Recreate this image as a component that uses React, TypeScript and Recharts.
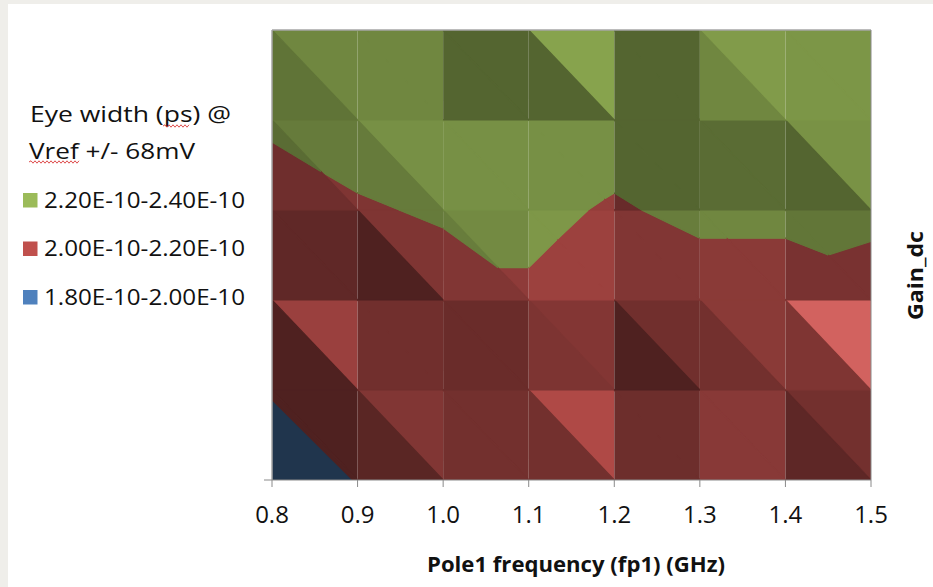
import React from 'react';
import { ComposedChart, Area, XAxis, YAxis, ReferenceLine } from 'recharts';

// Pole1 frequency (fp1) in GHz – x grid of the surface
const POLE1_FREQ_GHZ = [0.8, 0.9, 1.0, 1.1, 1.2, 1.3, 1.4, 1.5];
// Gain_dc levels (row index of the surface, bottom -> top; labels are not shown in the source)
const GAIN_DC_LEVELS = [0, 1, 2, 3, 4, 5];

// Eye width (x 1e-10 s) @ Vref +/- 68mV, one row per Gain_dc level (bottom -> top)
const EYE_WIDTH_G0 = [1.9, 2.006, 2.05, 2.07, 2.1, 2.06, 2.09, 2.08];
const EYE_WIDTH_G1 = [2.012, 2.08, 2.1, 2.12, 2.09, 2.11, 2.12, 2.15];
const EYE_WIDTH_G2 = [2.1, 2.08, 2.136, 2.191, 2.1675, 2.167, 2.167, 2.185];
const EYE_WIDTH_G3 = [2.138, 2.185, 2.216, 2.216, 2.193, 2.215, 2.215, 2.208];
const EYE_WIDTH_G4 = [2.22, 2.264, 2.26, 2.251, 2.23, 2.25, 2.24, 2.25];
const EYE_WIDTH_G5 = [2.3, 2.3, 2.28, 2.32, 2.28, 2.31, 2.3, 2.29];

// Contour bands
const BAND_LOWER = [1.8, 2.0, 2.2];
const BAND_UPPER = [2.0, 2.2, 2.4];
const BAND_LABELS = ['1.80E-10-2.00E-10', '2.00E-10-2.20E-10', '2.20E-10-2.40E-10'];
const BAND_COLORS = ['#4F81BD', '#C0504D', '#9BBB59'];

// Surface facet lighting (style): per cell [upper-right triangle, lower-left triangle], rows bottom -> top
const FACET_SHADE = [
  [[0.41, 0.41], [0.67, 0.47], [0.6, 0.6], [0.91, 0.6], [0.57, 0.57], [0.71, 0.71], [0.6, 0.49]],
  [[0.8, 0.41], [0.59, 0.59], [0.55, 0.55], [0.68, 0.65], [0.59, 0.41], [0.72, 0.6], [1.12, 0.66]],
  [[0.5, 0.5], [0.66, 0.41], [0.74, 0.67], [0.81, 0.81], [0.67, 0.67], [0.72, 0.72], [0.63, 0.63]],
  [[0.66, 0.58], [0.77, 0.66], [0.77, 0.77], [0.77, 0.77], [0.54, 0.54], [0.58, 0.58], [0.78, 0.54]],
  [[0.72, 0.62], [0.72, 0.72], [0.54, 0.54], [0.87, 0.54], [0.54, 0.54], [0.83, 0.72], [0.8, 0.8]],
];

const EYE_WIDTH_ROWS = [EYE_WIDTH_G0, EYE_WIDTH_G1, EYE_WIDTH_G2, EYE_WIDTH_G3, EYE_WIDTH_G4, EYE_WIDTH_G5];

type P = { x: number; y: number; z: number };

function shadeColor(hex: string, f: number): string {
  const n = parseInt(hex.slice(1), 16);
  const ch = [(n >> 16) & 255, (n >> 8) & 255, n & 255].map((c) =>
    Math.max(0, Math.min(255, Math.round(f > 1 ? c + (f - 1) * 150 : c * f)))
  );
  return '#' + ch.map((c) => c.toString(16).padStart(2, '0')).join('');
}

function clip(poly: P[], level: number, keepAbove: boolean): P[] {
  const out: P[] = [];
  for (let i = 0; i < poly.length; i++) {
    const a = poly[i];
    const b = poly[(i + 1) % poly.length];
    const ina = keepAbove ? a.z >= level : a.z <= level;
    const inb = keepAbove ? b.z >= level : b.z <= level;
    if (ina) out.push(a);
    if (ina !== inb) {
      const t = (level - a.z) / (b.z - a.z);
      out.push({ x: a.x + t * (b.x - a.x), y: a.y + t * (b.y - a.y), z: level });
    }
  }
  return out;
}

function toRange(poly: P[]) {
  const xs: number[] = [];
  poly.forEach((p) => {
    if (!xs.some((v) => Math.abs(v - p.x) < 1e-9)) xs.push(p.x);
  });
  xs.sort((a, b) => a - b);
  return xs.map((x) => {
    const ys: number[] = [];
    for (let i = 0; i < poly.length; i++) {
      const a = poly[i];
      const b = poly[(i + 1) % poly.length];
      if (Math.abs(a.x - b.x) < 1e-12) {
        if (Math.abs(a.x - x) < 1e-9) ys.push(a.y, b.y);
      } else if ((x - a.x) * (x - b.x) <= 1e-12) {
        ys.push(a.y + ((x - a.x) / (b.x - a.x)) * (b.y - a.y));
      }
    }
    return { x, r: [Math.min(...ys), Math.max(...ys)] };
  });
}

type Piece = { key: string; color: string; data: { x: number; r: number[] }[] };

function buildPieces(): Piece[] {
  const pieces: Piece[] = [];
  for (let r = 0; r < GAIN_DC_LEVELS.length - 1; r++) {
    for (let c = 0; c < POLE1_FREQ_GHZ.length - 1; c++) {
      const node = (i: number, j: number): P => ({ x: POLE1_FREQ_GHZ[i], y: GAIN_DC_LEVELS[j], z: EYE_WIDTH_ROWS[j][i] });
      const tris: P[][] = [
        [node(c, r + 1), node(c + 1, r + 1), node(c + 1, r)],
        [node(c, r + 1), node(c, r), node(c + 1, r)],
      ];
      tris.forEach((tri, ti) => {
        BAND_LOWER.forEach((lo, b) => {
          let poly = clip(tri, lo, true);
          if (poly.length >= 3) poly = clip(poly, BAND_UPPER[b], false);
          if (poly.length < 3) return;
          const minX = Math.min(...poly.map((p) => p.x));
          const maxX = Math.max(...poly.map((p) => p.x));
          if (maxX - minX < 1e-9) return;
          pieces.push({
            key: `${r}-${c}-${ti}-${b}`,
            color: shadeColor(BAND_COLORS[b], FACET_SHADE[r][c][ti]),
            data: toRange(poly),
          });
        });
      });
    }
  }
  return pieces;
}

const PIECES = buildPieces();
const FONT = "'Open Sans', 'Liberation Sans', sans-serif";

function Wavy({ x0, x1, y }: { x0: number; x1: number; y: number }) {
  let d = `M${x0},${y}`;
  let up = true;
  for (let x = x0 + 2; x <= x1; x += 2) {
    d += ` L${x},${y + (up ? -1.2 : 1.2)}`;
    up = !up;
  }
  return <path d={d} fill="none" stroke="#d93a3a" strokeWidth={0.9} />;
}

export default function App() {
  const legendOrder = [2, 1, 0];
  return (
    <div style={{ position: 'absolute', left: 0, top: 0, width: 933, height: 587, background: '#ffffff' }}>
      <ComposedChart
        width={933}
        height={587}
        margin={{ top: 30, right: 52, bottom: 57, left: 272 }}
        style={{ position: 'absolute', left: 0, top: 0 }}
      >
        <XAxis
          dataKey="x"
          type="number"
          domain={[0.8, 1.5]}
          ticks={POLE1_FREQ_GHZ}
          tickFormatter={(v: number) => v.toFixed(1)}
          allowDataOverflow
          height={50}
          tickSize={7}
          tickMargin={19}
          stroke="#8a8a8a"
          tick={{ fontSize: 24, fill: '#111111', fontFamily: FONT }}
        />
        <YAxis
          type="number"
          orientation="right"
          domain={[0, 5]}
          ticks={GAIN_DC_LEVELS}
          allowDataOverflow
          width={10}
          tickSize={7}
          tick={false}
          stroke="#8a8a8a"
        />
        {PIECES.map((p) => (
          <Area
            key={p.key}
            data={p.data}
            dataKey="r"
            type="linear"
            fill={p.color}
            fillOpacity={1}
            stroke={p.color}
            strokeWidth={1.2}
            dot={false}
            activeDot={false}
            isAnimationActive={false}
          />
        ))}
        <ReferenceLine y={5} stroke="#a6a6a6" strokeWidth={1.5} />
        <ReferenceLine x={0.8} stroke="#a6a6a6" strokeWidth={1.5} />
      </ComposedChart>
      <svg
        width={933}
        height={587}
        style={{ position: 'absolute', left: 0, top: 0, pointerEvents: 'none' }}
      >
        <rect x={0} y={0} width={933} height={4} fill="#efeeea" />
        <rect x={0} y={0} width={8} height={587} fill="#efeeea" />
        <line x1={264} y1={480} x2={272} y2={480} stroke="#8a8a8a" strokeWidth={1} />
        <text x={30} y={121.5} fontSize={21} fontFamily={FONT} fill="#111" textLength={201} lengthAdjust="spacingAndGlyphs">
          Eye width (ps) @
        </text>
        <Wavy x0={163} x1={189} y={126} />
        <text x={29} y={158.5} fontSize={21} fontFamily={FONT} fill="#111" textLength={166} lengthAdjust="spacingAndGlyphs">
          Vref +/- 68mV
        </text>
        <Wavy x0={29} x1={79} y={162} />
        {legendOrder.map((b, k) => (
          <g key={BAND_LABELS[b]}>
            <rect x={23} y={193 + k * 48.5} width={14.5} height={14.5} fill={BAND_COLORS[b]} />
            <text
              x={44}
              y={207.7 + k * 48.5}
              fontSize={21.5}
              fontFamily={FONT}
              fill="#111"
              textLength={201}
              lengthAdjust="spacingAndGlyphs"
            >
              {BAND_LABELS[b]}
            </text>
          </g>
        ))}
        <text x={427} y={571.7} fontSize={22} fontWeight="bold" fontFamily={FONT} fill="#111" textLength={298} lengthAdjust="spacingAndGlyphs">
          Pole1 frequency (fp1) (GHz)
        </text>
        <text
          transform="translate(923,320) rotate(-90)"
          x={0}
          y={0}
          fontSize={22}
          fontWeight="bold"
          fontFamily={FONT}
          fill="#111"
          textLength={89}
          lengthAdjust="spacingAndGlyphs"
        >
          Gain_dc
        </text>
      </svg>
    </div>
  );
}
